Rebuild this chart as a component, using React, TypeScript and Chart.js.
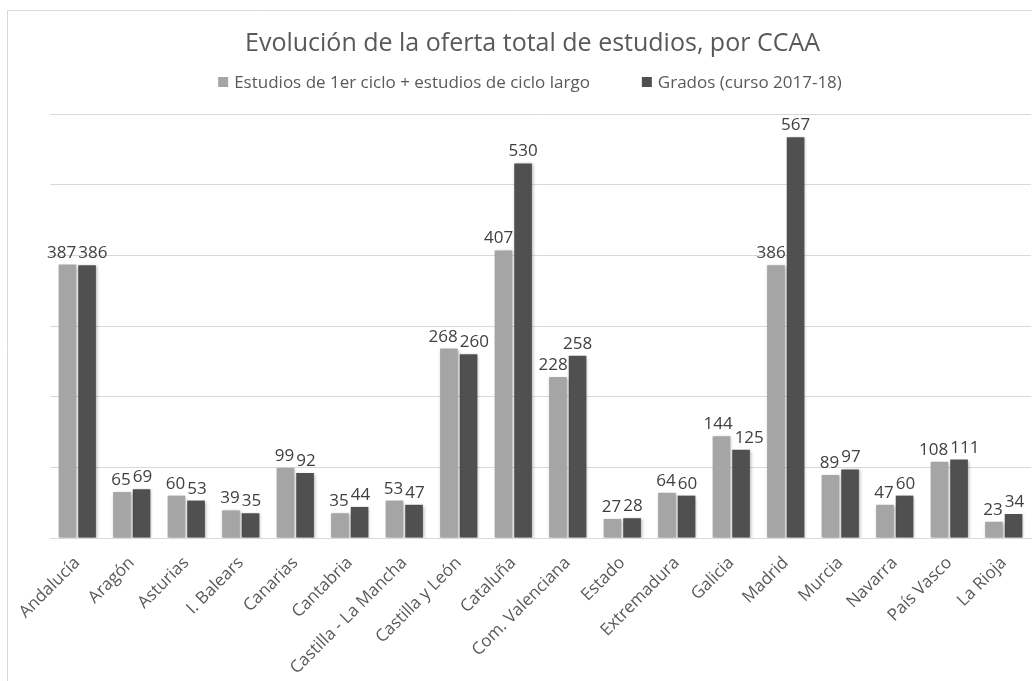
import React, { useEffect, useRef } from "react";
import { Chart, registerables } from "chart.js";

Chart.register(...registerables);

const categories = [
  "Andalucía", "Aragón", "Asturias", "I. Balears", "Canarias", "Cantabria",
  "Castilla - La Mancha", "Castilla y León", "Cataluña", "Com. Valenciana",
  "Estado", "Extremadura", "Galicia", "Madrid", "Murcia", "Navarra",
  "País Vasco", "La Rioja",
];
const seriesNames = ["Estudios de 1er ciclo + estudios de ciclo largo", "Grados (curso 2017-18)"];
const primerCiclo = [387, 65, 60, 39, 99, 35, 53, 268, 407, 228, 27, 64, 144, 386, 89, 47, 108, 23];
const grados = [386, 69, 53, 35, 92, 44, 47, 260, 530, 258, 28, 60, 125, 567, 97, 60, 111, 34];
const seriesColors = ["#a5a5a5", "#505050"];
const titleText = "Evolución de la oferta total de estudios, por CCAA";

const FONT = "'Open Sans', 'DejaVu Sans', sans-serif";

const framePlugin = {
  id: "frame",
  beforeDraw(chart: any) {
    const { ctx, width, height } = chart;
    ctx.save();
    ctx.fillStyle = "#ffffff";
    ctx.fillRect(0, 0, width, height);
    ctx.strokeStyle = "#d9d9d9";
    ctx.lineWidth = 1;
    ctx.beginPath();
    ctx.moveTo(7.5, height);
    ctx.lineTo(7.5, 10.5);
    ctx.lineTo(width, 10.5);
    ctx.stroke();
    ctx.restore();
  },
};

const shadowPlugin = {
  id: "barShadow",
  beforeDatasetDraw(chart: any) {
    const { ctx } = chart;
    ctx.save();
    ctx.shadowColor = "rgba(0,0,0,0.3)";
    ctx.shadowBlur = 3;
    ctx.shadowOffsetX = 1;
    ctx.shadowOffsetY = 1;
  },
  afterDatasetDraw(chart: any) {
    chart.ctx.restore();
  },
};

const legendPlugin = {
  id: "customLegend",
  afterDraw(chart: any) {
    const { ctx } = chart;
    const ds = chart.data.datasets;
    ctx.save();
    ctx.font = `17px ${FONT}`;
    ctx.textBaseline = "middle";
    ctx.textAlign = "left";
    const box = 10;
    const gapText = 6;
    const gapItem = 52;
    const widths = ds.map((d: any) => ctx.measureText(d.label).width);
    let total = 0;
    widths.forEach((w: number, i: number) => {
      total += box + gapText + w + (i < widths.length - 1 ? gapItem : 0);
    });
    const cy = 82;
    let x = 530 - total / 2;
    ds.forEach((d: any, i: number) => {
      ctx.fillStyle = d.backgroundColor;
      ctx.fillRect(x, cy - box / 2, box, box);
      ctx.fillStyle = "#595959";
      ctx.fillText(d.label, x + box + gapText, cy + 1);
      x += box + gapText + widths[i] + gapItem;
    });
    ctx.restore();
  },
};

const labelPlugin = {
  id: "barLabels",
  afterDatasetsDraw(chart: any) {
    const { ctx } = chart;
    const m0 = chart.getDatasetMeta(0);
    const m1 = chart.getDatasetMeta(1);
    ctx.save();
    ctx.font = `17px ${FONT}`;
    ctx.fillStyle = "#404040";
    ctx.textAlign = "center";
    ctx.textBaseline = "alphabetic";
    const capH = 12;
    const gap = 7;
    for (let i = 0; i < categories.length; i++) {
      const b0 = m0.data[i];
      const b1 = m1.data[i];
      const t0 = String(primerCiclo[i]);
      const t1 = String(grados[i]);
      const w0 = ctx.measureText(t0).width;
      const w1 = ctx.measureText(t1).width;
      let c0 = b0.x;
      let c1 = b1.x;
      const y0 = b0.y - gap;
      const y1 = b1.y - gap;
      const dLeft = b1.x - b1.width / 2;
      if (y0 > b1.y && c0 + w0 / 2 > dLeft) c0 = dLeft - 1 - w0 / 2;
      const lRight = b0.x + b0.width / 2;
      if (y1 > b0.y && c1 - w1 / 2 < lRight) c1 = lRight + 1 + w1 / 2;
      const need = (w0 + w1) / 2 + 2;
      if (Math.abs(y0 - y1) < capH + 2 && c1 - c0 < need) {
        const s = (need - (c1 - c0)) / 2;
        c0 -= s;
        c1 += s;
      }
      ctx.fillText(t0, c0, y0);
      ctx.fillText(t1, c1, y1);
    }
    ctx.restore();
  },
};

export default function App() {
  const ref = useRef<HTMLCanvasElement>(null);
  useEffect(() => {
    document.body.style.margin = "0";
    document.body.style.overflow = "hidden";
    const chart = new Chart(ref.current as HTMLCanvasElement, {
      type: "bar",
      data: {
        labels: categories,
        datasets: [
          {
            label: seriesNames[0],
            data: primerCiclo,
            backgroundColor: seriesColors[0],
            categoryPercentage: 0.72,
            barPercentage: 0.9,
          },
          {
            label: seriesNames[1],
            data: grados,
            backgroundColor: seriesColors[1],
            categoryPercentage: 0.72,
            barPercentage: 0.9,
          },
        ],
      },
      options: {
        animation: false,
        responsive: false,
        maintainAspectRatio: false,
        layout: { padding: { left: 34, right: 1, top: 0, bottom: 0 } },
        plugins: {
          title: {
            display: true,
            text: titleText,
            color: "#595959",
            font: { family: FONT, size: 25, weight: "normal" },
            padding: { top: 29, bottom: 55 },
          },
          legend: { display: false },
          tooltip: { enabled: false },
        },
        scales: {
          x: {
            grid: { display: false },
            border: { display: true, color: "#d9d9d9" },
            ticks: {
              color: "#595959",
              font: { family: FONT, size: 17 },
              minRotation: 45,
              maxRotation: 45,
              autoSkip: false,
              padding: 7,
            },
            afterFit: (scale: any) => {
              scale.height = 143;
            },
          },
          y: {
            min: 0,
            max: 600,
            ticks: { display: false, stepSize: 100 },
            grid: { color: "#d9d9d9", drawTicks: false },
            border: { display: false },
            afterFit: (scale: any) => {
              scale.width = 16;
            },
          },
        },
      },
      plugins: [framePlugin, shadowPlugin, labelPlugin, legendPlugin],
    });
    return () => chart.destroy();
  }, []);
  return (
    <canvas
      ref={ref}
      width={1032}
      height={681}
      style={{ position: "fixed", left: 0, top: 0, width: 1032, height: 681 }}
    />
  );
}
